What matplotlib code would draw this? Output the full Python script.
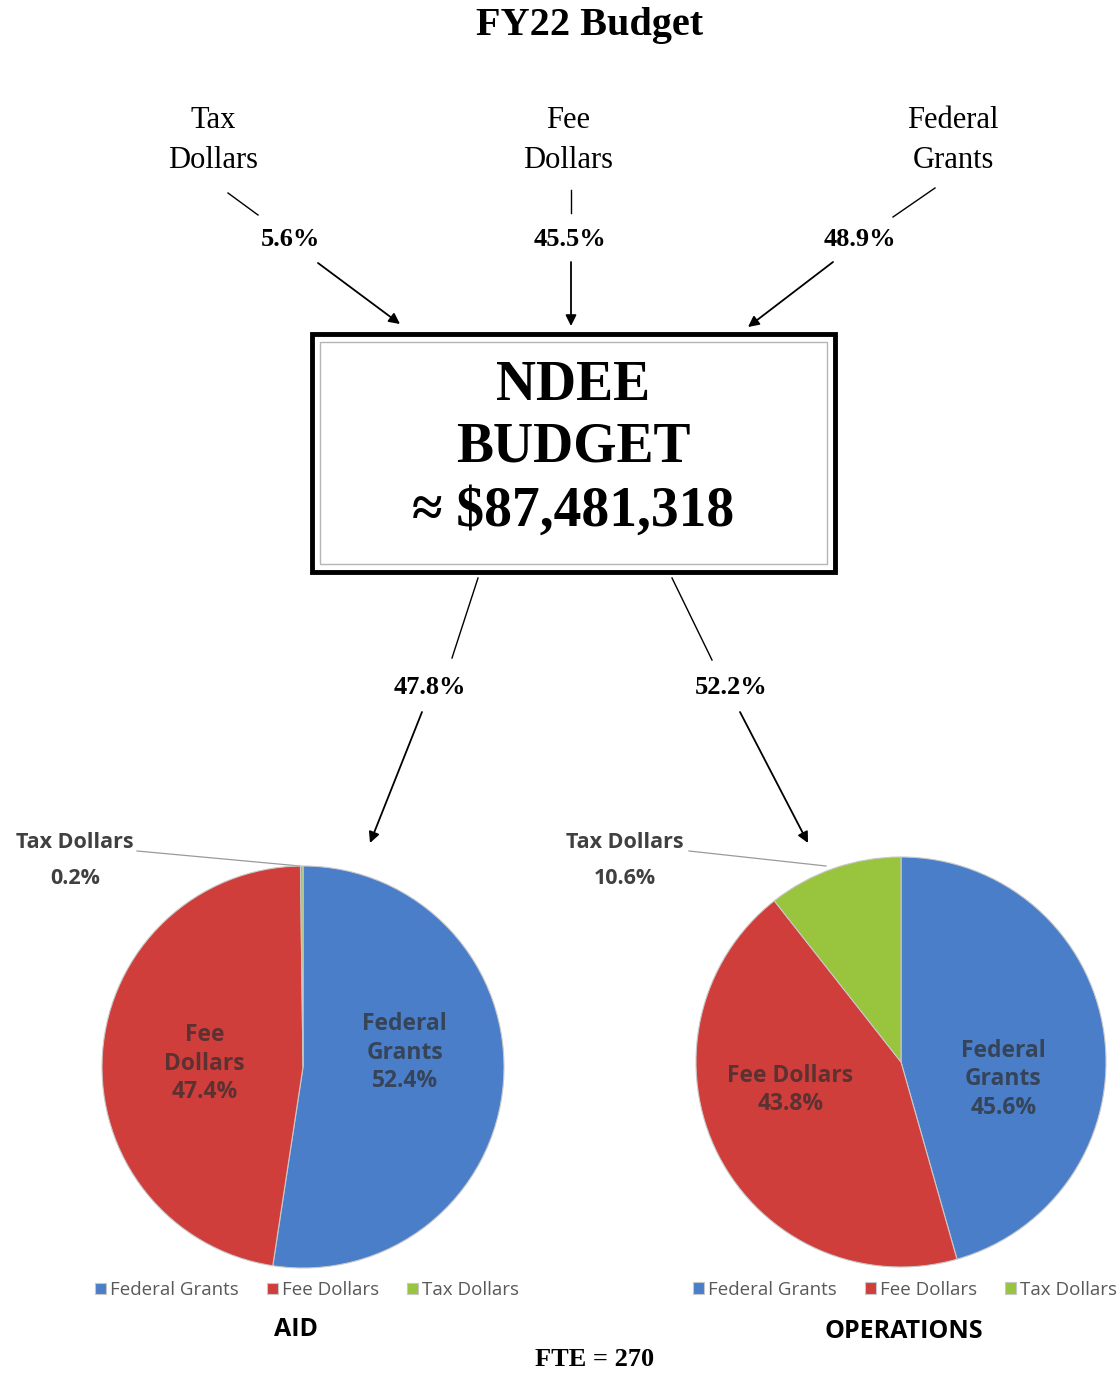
import matplotlib.pyplot as plt
from matplotlib.patches import Rectangle

# data
sources = ['Tax Dollars', 'Fee Dollars', 'Federal Grants']
source_pct = [5.6, 45.5, 48.9]
total_budget = '$87,481,318'
split_names = ['AID', 'OPERATIONS']
split_pct = [47.8, 52.2]
pie_labels = ['Federal Grants', 'Fee Dollars', 'Tax Dollars']
aid_vals = [52.4, 47.4, 0.2]
ops_vals = [45.6, 43.8, 10.6]
fte = 270

colors = ['#4a7ec8', '#cf3e3b', '#98c43e']
SERIF = ['Liberation Serif', 'DejaVu Serif']
SANS = ['Open Sans', 'DejaVu Sans']

fig = plt.figure(figsize=(11.18, 13.73), dpi=100)
ax = fig.add_axes([0, 0, 1, 1])
ax.set_xlim(0, 1118)
ax.set_ylim(1373, 0)
ax.axis('off')

ax.text(590, 26, 'FY22 Budget', ha='center', va='center', fontsize=29,
        fontweight='bold', family=SERIF)

# top sources -> box
src_x = [213, 568, 953]
pct_x = [290, 570, 860]
lines = [((228, 193), (258, 215)), ((571, 190), (571, 213)), ((935, 188), (893, 217))]
arrows = [((318, 263), (400, 324)), ((571, 262), (571, 326)), ((833, 262), (748, 327))]
for i, name in enumerate(sources):
    w1, w2 = name.split(' ')
    ax.text(src_x[i], 121, w1, ha='center', va='center', fontsize=22, family=SERIF)
    ax.text(src_x[i], 161, w2, ha='center', va='center', fontsize=22, family=SERIF)
    ax.text(pct_x[i], 240, f'{source_pct[i]}%', ha='center', va='center',
            fontsize=19, fontweight='bold', family=SERIF)
    (x0, y0), (x1, y1) = lines[i]
    ax.plot([x0, x1], [y0, y1], color='black', lw=1)
    (x0, y0), (x1, y1) = arrows[i]
    ax.annotate('', xy=(x1, y1), xytext=(x0, y0),
                arrowprops=dict(arrowstyle='-|>', color='black', lw=1.3,
                                mutation_scale=16, shrinkA=0, shrinkB=0))

# center box
ax.add_patch(Rectangle((312, 334), 523, 238, fill=True, facecolor='white',
                       edgecolor='black', lw=3.5))
ax.add_patch(Rectangle((320, 342), 507, 222, fill=False, edgecolor='#b5b5b5', lw=1))
ax.text(573, 386, 'NDEE', ha='center', va='center', fontsize=40, fontweight='bold', family=SERIF)
ax.text(573, 448, 'BUDGET', ha='center', va='center', fontsize=40, fontweight='bold', family=SERIF)
ax.text(573, 512, '\u2248 ' + total_budget, ha='center', va='center', fontsize=40,
        fontweight='bold', family=SERIF)

# box -> pies
split_lines = [((478, 578), (452, 658)), ((672, 578), (712, 660))]
split_arrows = [((422, 712), (370, 843)), ((740, 712), (808, 843))]
split_lbl_x = [430, 731]
for i in range(2):
    (x0, y0), (x1, y1) = split_lines[i]
    ax.plot([x0, x1], [y0, y1], color='black', lw=1)
    ax.text(split_lbl_x[i], 688, f'{split_pct[i]}%', ha='center', va='center',
            fontsize=19, fontweight='bold', family=SERIF)
    (x0, y0), (x1, y1) = split_arrows[i]
    ax.annotate('', xy=(x1, y1), xytext=(x0, y0),
                arrowprops=dict(arrowstyle='-|>', color='black', lw=1.3,
                                mutation_scale=16, shrinkA=0, shrinkB=0))

# pies
W, H = 1118, 1373
pie_boxes = [(102, 866, 402), (696, 857, 410)]
pie_vals = [aid_vals, ops_vals]
inside_pos = [[(0.505, 0.07), (-0.49, 0.015)], [(0.50, -0.083), (-0.54, -0.137)]]
inside_text = [['Federal\nGrants', 'Fee\nDollars'], ['Federal\nGrants', 'Fee Dollars']]
tax_lbl = [(75, 843), (625, 842)]
tax_leader = [((137, 851), (300, 866)), ((689, 851), (826, 866))]
title_pos = [(296, 1330), (904, 1332)]

for k in range(2):
    left, top, size = pie_boxes[k]
    pax = fig.add_axes([left / W, 1 - (top + size) / H, size / W, size / H])
    wedges, _ = pax.pie(pie_vals[k], colors=colors, startangle=90, counterclock=False,
                        radius=1, wedgeprops=dict(edgecolor='#c8c8c8', linewidth=0.8))
    pax.set_xlim(-1, 1)
    pax.set_ylim(-1, 1)
    pax.set_aspect('equal')
    for j in range(2):
        x, y = inside_pos[k][j]
        pax.text(x, y, f'{inside_text[k][j]}\n{pie_vals[k][j]}%', ha='center', va='center',
                 fontsize=16.5, fontweight='bold', family=SANS, color='#2e2e2e', alpha=0.72,
                 linespacing=1.25)
    pax.legend(wedges, pie_labels, loc='center', bbox_to_anchor=(0.51, -0.055),
               ncol=3, frameon=False, handlelength=0.6, handleheight=0.6,
               handletextpad=0.2, columnspacing=1.5,
               prop={'family': SANS, 'size': 13.5}, labelcolor='#595959')

    # tax label outside
    tx, ty = tax_lbl[k]
    ax.text(tx, ty, pie_labels[2], ha='center', va='center', fontsize=15.5,
            fontweight='bold', family=SANS, color='#404040')
    ax.text(tx, ty + 36, f'{pie_vals[k][2]}%', ha='center', va='center', fontsize=15.5,
            fontweight='bold', family=SANS, color='#404040')
    (x0, y0), (x1, y1) = tax_leader[k]
    ax.plot([x0, x1], [y0, y1], color='#9a9a9a', lw=0.9)

    ax.text(title_pos[k][0], title_pos[k][1], split_names[k], ha='center', va='center',
            fontsize=18, fontweight='bold', family=SANS, color='black')

ax.text(595, 1360, f'FTE = {fte}', ha='center', va='center', fontsize=19,
        fontweight='bold', family=SERIF)

fig.savefig('out.png', dpi=100)
